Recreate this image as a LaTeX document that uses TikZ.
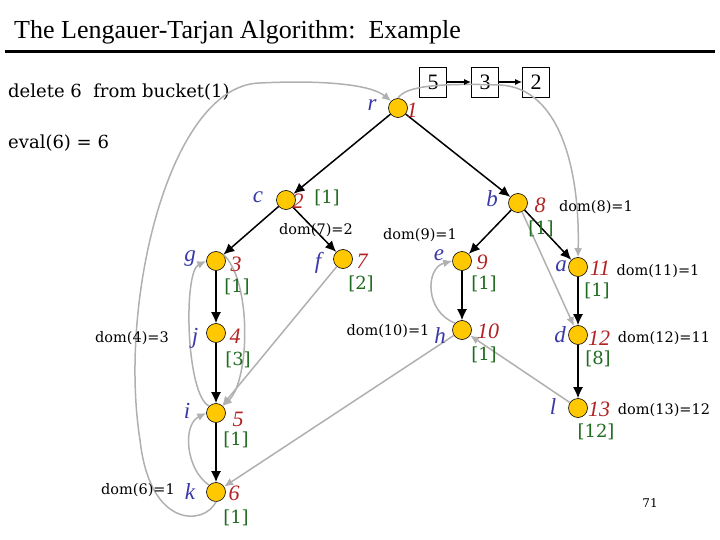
\documentclass[tikz,border=0pt]{standalone}
\usepackage{fontspec}
\setmainfont{Liberation Serif}
\newfontfamily\geo{DejaVu Serif}
\usetikzlibrary{arrows.meta}
\definecolor{nodefill}{HTML}{FFC800}
\definecolor{lblblue}{HTML}{3838A8}
\definecolor{lblred}{HTML}{B22222}
\definecolor{lblgreen}{HTML}{1F6B1F}
\definecolor{edgegray}{HTML}{B0B0B0}
\tikzset{
  vtx/.style={circle,draw=black,line width=0.6pt,fill=nodefill,minimum size=19pt,inner sep=0pt},
  nm/.style={text=lblblue,font=\fontsize{23}{24}\selectfont\itshape,inner sep=0pt},
  num/.style={text=lblred,font=\fontsize{22}{24}\selectfont\itshape,inner sep=0pt},
  sd/.style={text=lblgreen,font=\geo\fontsize{18}{20}\selectfont,inner sep=0pt},
  domlbl/.style={font=\geo\fontsize{14.5}{16}\selectfont,inner sep=0pt},
  tree/.style={line width=1.5pt,-{Latex[length=11pt,width=10pt]}},
  nontree/.style={line width=1.5pt,draw=edgegray,-{Latex[length=9pt,width=8pt]}},
  bucketbox/.style={draw=black,line width=0.6pt,minimum width=27pt,minimum height=30pt,inner sep=0pt,font=\fontsize{22}{24}\selectfont},
}
\begin{document}
\begin{tikzpicture}[x=1pt,y=-1pt]
\useasboundingbox (0,0) rectangle (720,540);
% title
\node[anchor=west,inner sep=0pt,font=\fontsize{26}{28}\selectfont] (title) at (14,32) {The Lengauer-Tarjan Algorithm:\ \ Example};
\coordinate (rulel) at (5,52);
\coordinate (ruler) at (715,52);
\draw[line width=3pt] (rulel) -- (ruler);
\node[anchor=west,inner sep=0pt,font=\geo\fontsize{18}{20}\selectfont] (del) at (8,92) {delete 6\ \ from bucket(1)};
\node[anchor=west,inner sep=0pt,font=\geo\fontsize{18}{20}\selectfont] (eval) at (8,143) {eval(6) = 6};
% bucket
\node[bucketbox] (b5) at (433,82) {5};
\node[bucketbox] (b3) at (485,82) {3};
\node[bucketbox] (b2) at (536,82) {2};
% vertices
\node[vtx] (r) at (398,108) {};
\node[vtx] (c) at (286,200) {};
\node[vtx] (b) at (518,203) {};
\node[vtx] (g) at (216,261) {};
\node[vtx] (f) at (343,259) {};
\node[vtx] (e) at (462,261) {};
\node[vtx] (a) at (578,267) {};
\node[vtx] (j) at (216,333) {};
\node[vtx] (h) at (462,330) {};
\node[vtx] (d) at (578,335) {};
\node[vtx] (i) at (216,413) {};
\node[vtx] (l) at (578,408) {};
\node[vtx] (k) at (216,492) {};
% gray non-tree edges
\draw[nontree] (k.south) .. controls (205,525) and (150,530) .. (140,440) .. controls (118,300) and (170,85) .. (260,83) .. controls (320,80) and (370,84) .. (r.north west);
\draw[nontree] (r.north) .. controls (405,86) and (440,83) .. (500,85) .. controls (560,88) and (580,170) .. (a.north);
\draw[nontree] (b) -- (d);
\draw[nontree] (l) -- (h);
\draw[nontree] (h) -- (k);
\draw[nontree] (f) -- (i);
\draw[nontree] (h.north west) .. controls (425,312) and (425,268) .. (e.west);
\draw[nontree] (g.north east) .. controls (252,280) and (250,380) .. (i.north east);
\draw[nontree] (i.north west) .. controls (186,395) and (183,272) .. (g.west);
\draw[nontree] (k.north west) .. controls (186,470) and (182,425) .. (i.west);
% bucket arrows
\draw[line width=1.5pt,-{Latex[length=7pt,width=6pt]}] (b5) -- (b3);
\draw[line width=1.5pt,-{Latex[length=7pt,width=6pt]}] (b3) -- (b2);
% tree edges
\draw[tree] (r) -- (c);
\draw[tree] (r) -- (b);
\draw[tree] (c) -- (g);
\draw[tree] (c) -- (f);
\draw[tree] (g) -- (j);
\draw[tree] (j) -- (i);
\draw[tree] (i) -- (k);
\draw[tree] (b) -- (e);
\draw[tree] (b) -- (a);
\draw[tree] (e) -- (h);
\draw[tree] (a) -- (d);
\draw[tree] (d) -- (l);
% labels
\node[nm] (rn) at (372,105) {r};   \node[num] (r1) at (412,110) {1};
\node[nm] (cn) at (258,197) {c};   \node[num] (c2) at (298,201) {2};  \node[sd] (cs) at (327,198) {[1]};
\node[nm] (bn) at (492,199) {b};   \node[num] (b8) at (540,205) {8};  \node[sd] (bs) at (541,229) {[1]};
\node[domlbl] (bd) at (596,207) {dom(8)=1};
\node[nm] (gn) at (190,259) {g};   \node[num] (g3) at (236,264) {3};  \node[sd] (gs) at (237,287) {[1]};
\node[nm] (fn) at (318,263) {f};   \node[num] (f7) at (362,261) {7};  \node[sd] (fs) at (361,284) {[2]};
\node[domlbl] (fd) at (316,230) {dom(7)=2};
\node[domlbl] (ed) at (420,235) {dom(9)=1};
\node[nm] (en) at (439,255) {e};   \node[num] (e9) at (482,262) {9};  \node[sd] (es) at (484,284) {[1]};
\node[nm] (an) at (561,266) {a};   \node[num] (a11) at (600,268) {11}; \node[sd] (as) at (597,291) {[1]};
\node[domlbl] (ad) at (658,271) {dom(11)=1};
\node[domlbl] (jd) at (132,338) {dom(4)=3};
\node[nm] (jn) at (195,338) {j};   \node[num] (j4) at (235,336) {4};  \node[sd] (js) at (238,360) {[3]};
\node[domlbl] (hd) at (388,331) {dom(10)=1};
\node[nm] (hn) at (440,336) {h};   \node[num] (h10) at (488,331) {10}; \node[sd] (hs) at (484,355) {[1]};
\node[nm] (dn) at (560,335) {d};   \node[num] (d12) at (599,338) {12}; \node[sd] (ds) at (598,359) {[8]};
\node[domlbl] (dd) at (664,338) {dom(12)=11};
\node[nm] (in) at (187,411) {i};   \node[num] (i5) at (238,419) {5};  \node[sd] (is) at (236,440) {[1]};
\node[nm] (ln) at (553,407) {l};   \node[num] (l13) at (599,409) {13}; \node[sd] (ls) at (596,432) {[12]};
\node[domlbl] (ld) at (664,410) {dom(13)=12};
\node[domlbl] (kd) at (138,490) {dom(6)=1};
\node[nm] (kn) at (190,492) {k};   \node[num] (k6) at (234,493) {6};  \node[sd] (ks) at (236,518) {[1]};
\node[inner sep=0pt,font=\geo\fontsize{12}{14}\selectfont] (pg) at (650,503) {71};
\end{tikzpicture}
\end{document}
